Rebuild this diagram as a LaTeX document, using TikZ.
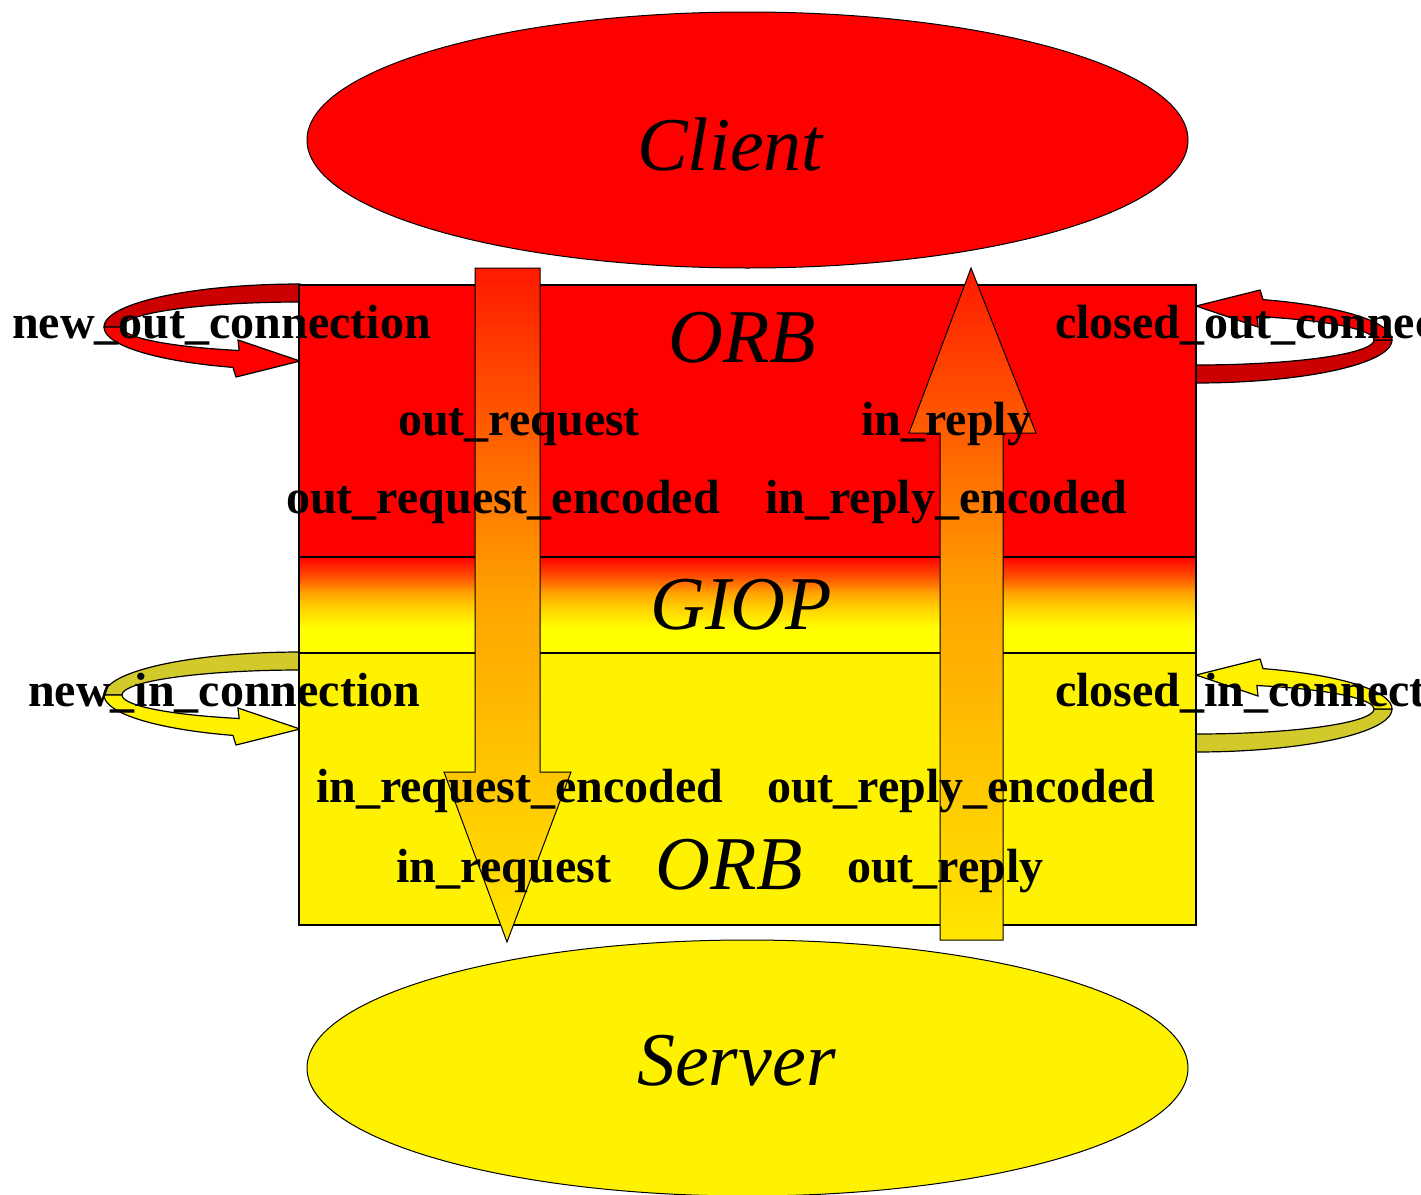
\documentclass[tikz,border=0pt]{standalone}
\usepackage{fontspec}
\setmainfont{Liberation Serif}
\usetikzlibrary{shapes.geometric}
\pgfdeclareverticalshading{giopshade}{100bp}{color(0bp)=(yellow); color(25bp)=(yellow); color(38bp)=(yellow); color(47bp)=(yellow!85!red); color(56bp)=(orange!70!yellow); color(65bp)=(red!70!yellow); color(75bp)=(red); color(100bp)=(red)}

\begin{document}
\begin{tikzpicture}[x=1pt, y=-1pt]

\tikzset{blob/.style={shape=ellipse, draw=black, line width=1, minimum width=881, minimum height=256, inner sep=0}}
\tikzset{sect/.style={shape=rectangle, draw=black, line width=1.5, minimum width=897, inner sep=0}}
\tikzset{lbl/.style={font=\fontsize{48}{50}\selectfont\bfseries, anchor=base west, inner sep=0}}
\tikzset{ttl/.style={font=\fontsize{76}{80}\selectfont\itshape, anchor=base west, inner sep=0}}
\tikzset{flow/.style={draw=black, line width=1, top color=red!90!yellow, bottom color=yellow!90!red, middle color=orange!70!yellow}}
\tikzset{ribbon/.style={draw=black, line width=1.2}}

\useasboundingbox (0,0) rectangle (1421,1194);
\clip (0,0) rectangle (1421,1194);

\node[blob, fill=red] (client) at (747.5,140) {};
\node[blob, fill=yellow] (server) at (747.5,1068) {};

\begin{scope}[shift={(300,327)}]
\draw[ribbon, fill=red!80!black] plot[domain=270:180, samples=30] ({196*cos(\x)},{43*sin(\x)}) -- plot[domain=180:270, samples=30] ({178*cos(\x)},{25*sin(\x)}) -- cycle;
\draw[ribbon, fill=red] plot[domain=180:110, samples=20] ({196*cos(\x)},{43*sin(\x)}) -- (-64,50) -- (0,34) -- (-62,13) -- plot[domain=110:180, samples=20] ({178*cos(\x)},{25*sin(\x)}) -- cycle;
\end{scope}
\begin{scope}[shift={(1196,340)}, rotate=180]
\draw[ribbon, fill=red!80!black] plot[domain=270:180, samples=30] ({196*cos(\x)},{43*sin(\x)}) -- plot[domain=180:270, samples=30] ({178*cos(\x)},{25*sin(\x)}) -- cycle;
\draw[ribbon, fill=red] plot[domain=180:110, samples=20] ({196*cos(\x)},{43*sin(\x)}) -- (-64,50) -- (0,34) -- (-62,13) -- plot[domain=110:180, samples=20] ({178*cos(\x)},{25*sin(\x)}) -- cycle;
\end{scope}
\begin{scope}[shift={(300,695)}]
\draw[ribbon, fill=yellow!80!black] plot[domain=270:180, samples=30] ({196*cos(\x)},{43*sin(\x)}) -- plot[domain=180:270, samples=30] ({178*cos(\x)},{25*sin(\x)}) -- cycle;
\draw[ribbon, fill=yellow] plot[domain=180:110, samples=20] ({196*cos(\x)},{43*sin(\x)}) -- (-64,50) -- (0,34) -- (-62,13) -- plot[domain=110:180, samples=20] ({178*cos(\x)},{25*sin(\x)}) -- cycle;
\end{scope}
\begin{scope}[shift={(1196,709)}, rotate=180]
\draw[ribbon, fill=yellow!80!black] plot[domain=270:180, samples=30] ({196*cos(\x)},{43*sin(\x)}) -- plot[domain=180:270, samples=30] ({178*cos(\x)},{25*sin(\x)}) -- cycle;
\draw[ribbon, fill=yellow] plot[domain=180:110, samples=20] ({196*cos(\x)},{43*sin(\x)}) -- (-64,50) -- (0,34) -- (-62,13) -- plot[domain=110:180, samples=20] ({178*cos(\x)},{25*sin(\x)}) -- cycle;
\end{scope}

\node[sect, fill=red, minimum height=272] (orbtop) at (747.5,421) {};
\node[sect, shade, shading=giopshade, minimum height=96] (giop) at (747.5,605) {};
\node[sect, fill=yellow, minimum height=272] (orbbottom) at (747.5,789) {};

\draw[flow] (475,268) -- (540,268) -- (540,772) -- (571,772) -- (507,942) -- (444,772) -- (475,772) -- cycle;
\draw[flow] (940,940) -- (1003,940) -- (1003,433) -- (1036,433) -- (971,268) -- (909,433) -- (940,433) -- cycle;

\node[ttl] (clienttxt) at (637,170) {Client};
\node[ttl] (orbtoptxt) at (668,362) {ORB};
\node[ttl] (gioptxt) at (650,629) {GIOP};
\node[ttl] (orbbottomtxt) at (655,889) {ORB};
\node[ttl] (servertxt) at (637,1085) {Server};

\node[lbl] (newout) at (12,338) {new\_out\_connection};
\node[lbl] (closedout) at (1055,338) {closed\_out\_connection};
\node[lbl] (outreq) at (398,435) {out\_request};
\node[lbl] (inrep) at (861,435) {in\_reply};
\node[lbl] (outreqenc) at (286,513) {out\_request\_encoded};
\node[lbl] (inrepenc) at (765,513) {in\_reply\_encoded};
\node[lbl] (newin) at (28,706) {new\_in\_connection};
\node[lbl] (closedin) at (1055,706) {closed\_in\_connection};
\node[lbl] (inreqenc) at (316,802) {in\_request\_encoded};
\node[lbl] (outrepenc) at (767,802) {out\_reply\_encoded};
\node[lbl] (inreq) at (396,882) {in\_request};
\node[lbl] (outrep) at (847,882) {out\_reply};

\end{tikzpicture}
\end{document}
